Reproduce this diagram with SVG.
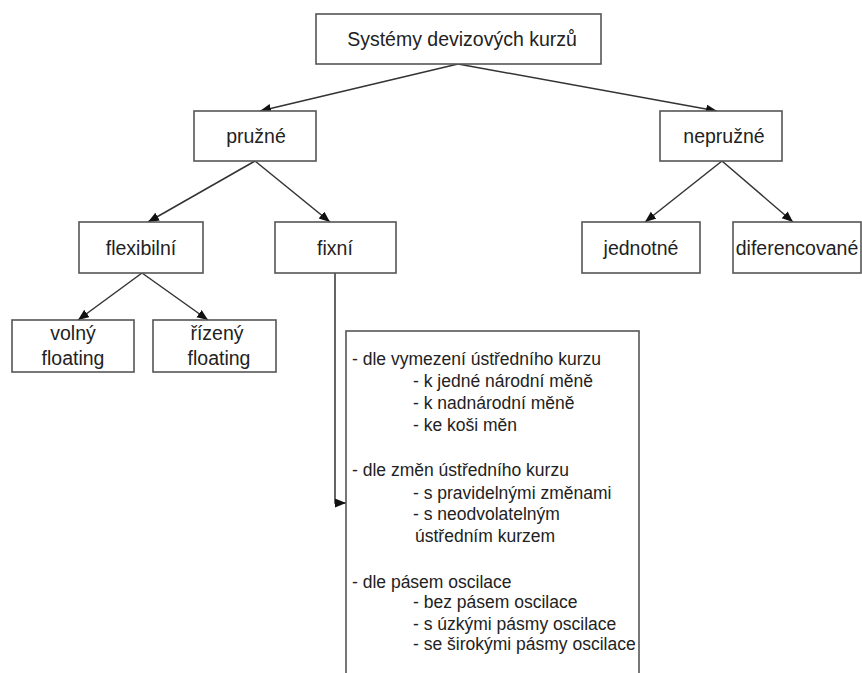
<svg xmlns="http://www.w3.org/2000/svg" width="862" height="673" viewBox="0 0 862 673">
<style>
.box{fill:#fff;stroke:#555;stroke-width:1.6}
.t{font-family:"Liberation Sans",Arial,sans-serif;font-size:19.5px;fill:#222;text-anchor:middle}
.l{font-family:"Liberation Sans",Arial,sans-serif;font-size:17.5px;fill:#222}
.c{fill:none;stroke:#333;stroke-width:1.5}
</style>
<defs>
<marker id="ah" markerUnits="userSpaceOnUse" markerWidth="12" markerHeight="10" refX="11" refY="4.5" orient="auto">
<path d="M0,0 L11,4.5 L0,9 z" fill="#111"/>
</marker>
</defs>
<rect width="862" height="673" fill="#fff"/>
<g id="connectors">
<line class="c" x1="458" y1="64" x2="260" y2="111" marker-end="url(#ah)"/>
<line class="c" x1="458" y1="64" x2="717" y2="111" marker-end="url(#ah)"/>
<line class="c" x1="255" y1="161" x2="148" y2="222" marker-end="url(#ah)"/>
<line class="c" x1="255" y1="161" x2="330" y2="222" marker-end="url(#ah)"/>
<line class="c" x1="142" y1="273" x2="78" y2="320" marker-end="url(#ah)"/>
<line class="c" x1="142" y1="273" x2="208" y2="320" marker-end="url(#ah)"/>
<line class="c" x1="722" y1="161" x2="645" y2="222" marker-end="url(#ah)"/>
<line class="c" x1="722" y1="161" x2="793" y2="222" marker-end="url(#ah)"/>
<polyline class="c" points="335,273 335,503 346,503" marker-end="url(#ah)"/>
</g>
<g id="n-root">
<rect class="box" x="316" y="14" width="285" height="50"/>
<text class="t" x="462" y="46">Systémy devizových kurzů</text>
</g>
<g id="n-pruzne">
<rect class="box" x="194" y="111" width="122" height="50"/>
<text class="t" x="256" y="143">pružné</text>
</g>
<g id="n-nepruzne">
<rect class="box" x="660" y="111" width="122" height="50"/>
<text class="t" x="724" y="143">nepružné</text>
</g>
<g id="n-flexibilni">
<rect class="box" x="79" y="222" width="124" height="51"/>
<text class="t" x="141" y="255">flexibilní</text>
</g>
<g id="n-fixni">
<rect class="box" x="275" y="222" width="121" height="51"/>
<text class="t" x="335" y="255">fixní</text>
</g>
<g id="n-jednotne">
<rect class="box" x="582" y="222" width="118" height="51"/>
<text class="t" x="641" y="255">jednotné</text>
</g>
<g id="n-diferencovane">
<rect class="box" x="733" y="222" width="128" height="51"/>
<text class="t" x="797" y="255">diferencované</text>
</g>
<g id="n-volny">
<rect class="box" x="12" y="320" width="122" height="52"/>
<text class="t" x="73" y="340">volný</text>
<text class="t" x="73" y="365">floating</text>
</g>
<g id="n-rizeny">
<rect class="box" x="153" y="320" width="123" height="52"/>
<text class="t" x="217" y="340">řízený</text>
<text class="t" x="219" y="365">floating</text>
</g>
<g id="n-fixni-list">
<rect class="box" x="346" y="331" width="293" height="400"/>
<text class="l" x="352" y="365">- dle vymezení ústředního kurzu</text>
<text class="l" x="413" y="387">- k jedné národní měně</text>
<text class="l" x="413" y="409">- k nadnárodní měně</text>
<text class="l" x="413" y="431">- ke koši měn</text>
<text class="l" x="352" y="476">- dle změn ústředního kurzu</text>
<text class="l" x="413" y="499">- s pravidelnými změnami</text>
<text class="l" x="413" y="520">- s neodvolatelným</text>
<text class="l" x="415" y="542">ústředním kurzem</text>
<text class="l" x="352" y="588">- dle pásem oscilace</text>
<text class="l" x="413" y="608">- bez pásem oscilace</text>
<text class="l" x="413" y="630">- s úzkými pásmy oscilace</text>
<text class="l" x="413" y="650">- se širokými pásmy oscilace</text>
</g>
</svg>
